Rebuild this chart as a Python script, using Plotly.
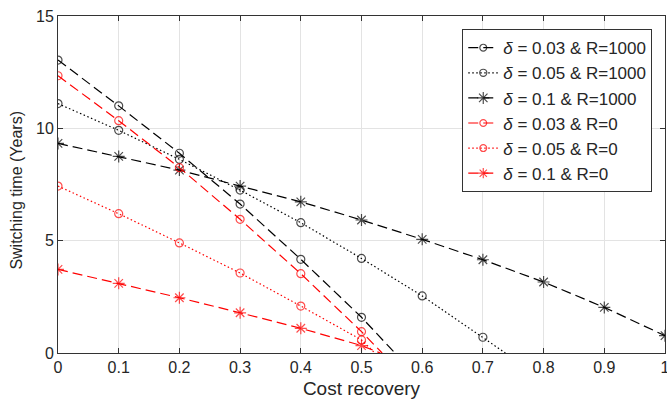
import plotly.graph_objects as go

x_ticks = [0, 0.1, 0.2, 0.3, 0.4, 0.5, 0.6, 0.7, 0.8, 0.9, 1.0]
x_ticktext = ["0", "0.1", "0.2", "0.3", "0.4", "0.5", "0.6", "0.7", "0.8", "0.9", "1"]
y_ticks = [0, 5, 10, 15]

# series points and the x where each line reaches zero (no marker there)
s1_x = [0, 0.1, 0.2, 0.3, 0.4, 0.5]
s1_y = [13.04, 11.0, 8.89, 6.63, 4.17, 1.59]
s1_end = 0.555

s2_x = [0, 0.1, 0.2, 0.3, 0.4, 0.5, 0.6, 0.7]
s2_y = [11.1, 9.91, 8.62, 7.25, 5.8, 4.21, 2.54, 0.70]
s2_end = 0.737

s3_x = [0, 0.1, 0.2, 0.3, 0.4, 0.5, 0.6, 0.7, 0.8, 0.9, 1.0]
s3_y = [9.33, 8.75, 8.14, 7.43, 6.73, 5.92, 5.06, 4.15, 3.16, 2.03, 0.77]
s3_end = None

s4_x = [0, 0.1, 0.2, 0.3, 0.4, 0.5]
s4_y = [12.34, 10.34, 8.25, 5.95, 3.53, 0.95]
s4_end = 0.534

s5_x = [0, 0.1, 0.2, 0.3, 0.4, 0.5]
s5_y = [7.43, 6.2, 4.9, 3.56, 2.09, 0.58]
s5_end = 0.522

s6_x = [0, 0.1, 0.2, 0.3, 0.4, 0.5]
s6_y = [3.72, 3.1, 2.46, 1.79, 1.10, 0.33]
s6_end = 0.531

names = [
    "<i>δ</i> = 0.03 &amp; R=1000",
    "<i>δ</i> = 0.05 &amp; R=1000",
    "<i>δ</i> = 0.1 &amp; R=1000",
    "<i>δ</i> = 0.03 &amp; R=0",
    "<i>δ</i> = 0.05 &amp; R=0",
    "<i>δ</i> = 0.1 &amp; R=0",
]
colors = ["black", "black", "black", "#ff0000", "#ff0000", "#ff0000"]
dashes = ["10px,5px", "1.5px,2.5px", "10px,5px", "10px,5px", "1.5px,2.5px", "10px,5px"]
symbols = ["circle-open", "circle-open", "asterisk-open", "circle-open", "circle-open", "asterisk-open"]

series = [(s1_x, s1_y, s1_end), (s2_x, s2_y, s2_end), (s3_x, s3_y, s3_end),
          (s4_x, s4_y, s4_end), (s5_x, s5_y, s5_end), (s6_x, s6_y, s6_end)]

FONT = "Liberation Sans, Arial, Helvetica, sans-serif"
AX = "#333333"

fig = go.Figure()
for (xs, ys, end), nm, c, d, sym in zip(series, names, colors, dashes, symbols):
    xx = list(xs)
    yy = list(ys)
    sizes = [8 if "circle" in sym else 10] * len(xs)
    if end is not None:
        xx.append(end)
        yy.append(0)
        sizes.append(0)
    fig.add_trace(go.Scatter(
        x=xx, y=yy, name=nm, mode="lines+markers",
        line=dict(color=c, dash=d, width=1.2),
        marker=dict(symbol=sym, size=sizes, color=c, line=dict(color=c, width=1.2)),
    ))

axis_common = dict(
    showgrid=True, gridcolor="#e3e3e3", gridwidth=1,
    showline=True, linecolor=AX, linewidth=1, mirror="ticks",
    ticks="inside", ticklen=5, tickcolor=AX,
    tickfont=dict(family=FONT, size=16, color="#262626"),
    zeroline=False, automargin=False, ticklabeloverflow="allow",
)

fig.update_layout(
    width=667, height=407,
    margin=dict(l=58, r=2, t=16, b=54),
    paper_bgcolor="white", plot_bgcolor="white",
    font=dict(family=FONT, size=16, color="#262626"),
    xaxis=dict(range=[0, 1], tickvals=x_ticks, ticktext=x_ticktext,
               title=dict(text="Cost recovery", font=dict(size=19), standoff=6), **axis_common),
    yaxis=dict(range=[0, 15], tickvals=y_ticks, **axis_common),
    legend=dict(x=0.666, y=0.961, xanchor="left", yanchor="top",
                bgcolor="white", bordercolor=AX, borderwidth=1,
                font=dict(family=FONT, size=17, color="#262626"), tracegroupgap=0,
                itemwidth=30),
    showlegend=True,
    annotations=[dict(text="Switching time (Years)", textangle=-90,
                      xref="paper", yref="paper", x=-0.068, y=0.484,
                      xanchor="center", yanchor="middle", showarrow=False,
                      font=dict(family=FONT, size=16, color="#262626"))],
)

fig.write_html("out.html", config={"displayModeBar": False},
               post_script="document.body.style.margin='0px';")
